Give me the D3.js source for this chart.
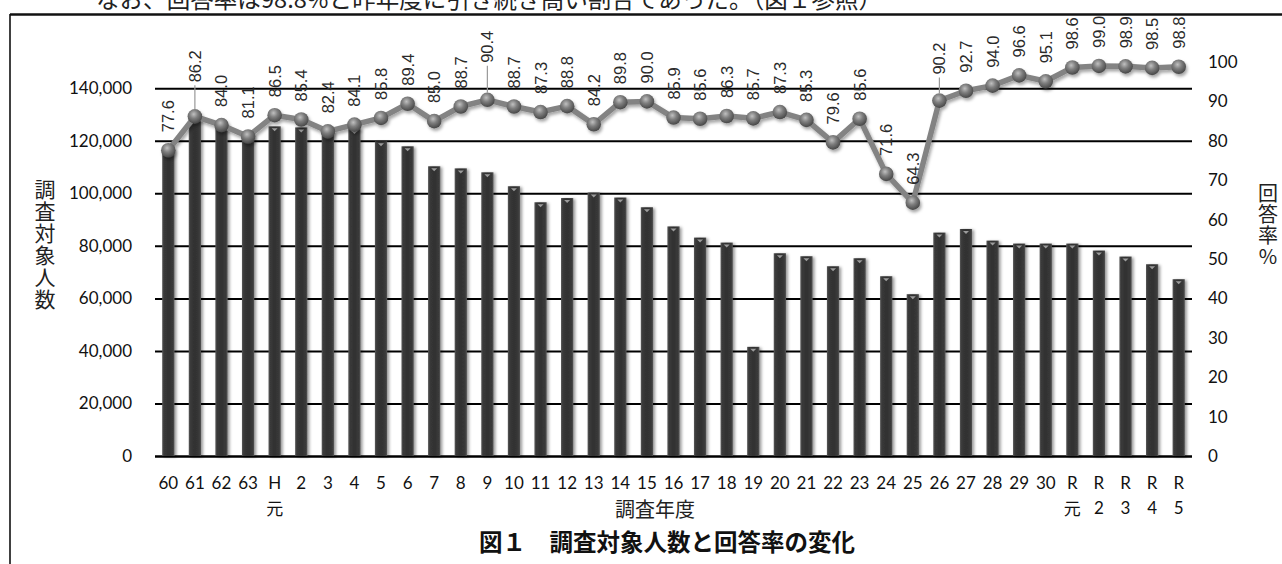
<!DOCTYPE html>
<html>
<head>
<meta charset="utf-8">
<script src="https://cdn.jsdelivr.net/npm/d3@7"></script>
<style>
  body { margin: 0; background: #fff; }
  svg { display: block; }
</style>
</head>
<body>
<svg id="chart" width="1282" height="564"></svg>
<script>
// Survey years (Showa 60 … Reiwa 5)
const categories = ["60","61","62","63","H元","2","3","4","5","6","7","8","9","10",
  "11","12","13","14","15","16","17","18","19","20","21","22","23","24","25","26",
  "27","28","29","30","R元","R2","R3","R4","R5"];

// Number of people surveyed (bars, left axis)
const subjects = [117000,128500,126000,122500,125500,125100,124000,124500,119800,117900,
  110300,109500,108000,102700,96600,98200,100300,98400,94700,87400,83150,81250,41560,
  77190,76050,72240,75290,68440,61600,85050,86430,82000,80870,80870,80870,78210,75930,
  73000,67300];

// Response rate in % (line, right axis)
const rates = [77.6,86.2,84.0,81.1,86.5,85.4,82.4,84.1,85.8,89.4,85.0,88.7,90.4,88.7,
  87.3,88.8,84.2,89.8,90.0,85.9,85.6,86.3,85.7,87.3,85.3,79.6,85.6,71.6,64.3,90.2,
  92.7,94.0,96.6,95.1,98.6,99.0,98.9,98.5,98.8];

const leftTicks = [0,20000,40000,60000,80000,100000,120000,140000];
const rightTicks = [0,10,20,30,40,50,60,70,80,90,100];

const leftTitle = "調査対象人数";
const rightTitle = "回答率%";
const xTitle = "調査年度";
const caption = "図１　調査対象人数と回答率の変化";
const bodyLine = "なお、回答率は98.8%と昨年度に引き続き高い割合であった。（図１参照）";

// ---- layout ----
const plot = { left: 155, right: 1192, top: 62, bottom: 456 };
const latin = "Lato, 'Noto Sans', sans-serif";
const cjk = "'Noto Sans CJK JP', sans-serif";

const svg = d3.select("#chart");
const defs = svg.append("defs");

// bevelled dark bar fill
const barGrad = defs.append("linearGradient").attr("id", "barGrad")
  .attr("x1", 0).attr("x2", 1).attr("y1", 0).attr("y2", 0);
[["0%","#5a5a5a"],["14%","#3a3a3a"],["50%","#303030"],["86%","#3a3a3a"],["100%","#555"]]
  .forEach(([o,c]) => barGrad.append("stop").attr("offset", o).attr("stop-color", c));

// spherical marker fill
const dotGrad = defs.append("radialGradient").attr("id", "dotGrad")
  .attr("cx", "42%").attr("cy", "35%").attr("r", "65%");
[["0%","#c0c0c0"],["45%","#7e7e7e"],["100%","#474747"]]
  .forEach(([o,c]) => dotGrad.append("stop").attr("offset", o).attr("stop-color", c));

const barShadow = defs.append("filter").attr("id", "barShadow")
  .attr("x", "-50%").attr("y", "-5%").attr("width", "200%").attr("height", "110%");
barShadow.append("feDropShadow").attr("dx", 2).attr("dy", 1).attr("stdDeviation", 1.4)
  .attr("flood-color", "#000").attr("flood-opacity", 0.4);

const lineShadow = defs.append("filter").attr("id", "lineShadow")
  .attr("x", "-5%").attr("y", "-20%").attr("width", "110%").attr("height", "140%");
lineShadow.append("feDropShadow").attr("dx", 1.5).attr("dy", 2.5).attr("stdDeviation", 1.8)
  .attr("flood-color", "#000").attr("flood-opacity", 0.35);

// ---- scales ----
const x = d3.scaleBand().domain(categories)
  .range([plot.left, plot.right]).paddingInner(0.54).paddingOuter(0.27);
const cx = d => x(d) + x.bandwidth() / 2;
const yL = d3.scaleLinear().domain([0, 150000]).range([plot.bottom, plot.top]);
const yR = d3.scaleLinear().domain([0, 100]).range([plot.bottom, plot.top]);

// ---- body text line above the figure frame ----
svg.append("text").attr("x", 96).attr("y", 8)
  .attr("font-family", cjk).attr("font-size", 23.5).attr("fill", "#222")
  .attr("textLength", 786).attr("lengthAdjust", "spacing")
  .text(bodyLine);

// figure frame
svg.append("line").attr("x1", 10).attr("x2", 1282).attr("y1", 14.5).attr("y2", 14.5)
  .attr("stroke", "#111").attr("stroke-width", 2.5);
svg.append("line").attr("x1", 10).attr("x2", 10).attr("y1", 14).attr("y2", 564)
  .attr("stroke", "#111").attr("stroke-width", 1.6);

// ---- gridlines ----
svg.append("g").attr("transform", `translate(${plot.left},0)`)
  .call(d3.axisLeft(yL).tickValues(leftTicks).tickFormat("")
    .tickSize(-(plot.right - plot.left)))
  .call(g => g.select(".domain").remove())
  .call(g => g.selectAll(".tick line").attr("stroke", "#000")
    .attr("stroke-width", d => d === 0 ? 2.6 : 2));

// ---- axes labels ----
svg.append("g").attr("transform", `translate(${plot.left},0)`)
  .call(d3.axisLeft(yL).tickValues(leftTicks).tickFormat(d3.format(","))
    .tickSize(0).tickPadding(23))
  .call(g => g.select(".domain").remove())
  .call(g => g.selectAll("text").attr("font-family", latin).attr("font-size", 17)
    .attr("fill", "#111"));

svg.append("g").attr("transform", `translate(${plot.right},0)`)
  .call(d3.axisRight(yR).tickValues(rightTicks).tickSize(0).tickPadding(16))
  .call(g => g.select(".domain").remove())
  .call(g => g.selectAll("text").attr("font-family", latin).attr("font-size", 17)
    .attr("fill", "#111"));

// category labels: era letter on top, 元 / digit below for H元 and R…
const xl = svg.append("g");
categories.forEach(c => {
  const parts = /^[HR]/.test(c) ? [c[0], c.slice(1)] : [c];
  parts.forEach((p, k) => {
    xl.append("text").attr("x", cx(c)).attr("y", k === 0 ? 482 : 507)
      .attr("text-anchor", "middle").attr("dominant-baseline", "central")
      .attr("font-family", p === "元" ? cjk : latin).attr("font-size", 17)
      .attr("fill", "#111").text(p);
  });
});

// axis titles, set in vertical writing mode
const vertical = (str, x0, y0, size, spacing) =>
  svg.append("text").attr("x", x0).attr("y", y0)
    .style("writing-mode", "vertical-rl").style("text-orientation", "upright")
    .attr("font-family", cjk).attr("font-size", size).attr("letter-spacing", spacing)
    .attr("fill", "#222").text(str);
vertical(leftTitle, 45, 179, 21, 1);
vertical(rightTitle, 1268, 183, 20, 1);

svg.append("text").attr("x", 655).attr("y", 508).attr("text-anchor", "middle")
  .attr("dominant-baseline", "central").attr("font-family", cjk).attr("font-size", 20)
  .attr("fill", "#222").text(xTitle);

svg.append("text").attr("x", 667).attr("y", 541).attr("text-anchor", "middle")
  .attr("dominant-baseline", "central").attr("font-family", cjk).attr("font-size", 23.5)
  .attr("font-weight", "bold").attr("fill", "#111").text(caption);

// ---- bars ----
const bars = svg.append("g");
categories.forEach((c, i) => {
  const top = yL(subjects[i]);
  bars.append("rect").attr("x", x(c)).attr("y", top)
    .attr("width", x.bandwidth()).attr("height", plot.bottom - top)
    .attr("fill", "url(#barGrad)").attr("filter", "url(#barShadow)");
  bars.append("path")
    .attr("d", `M${cx(c) - 3},${top + 2}L${cx(c) + 3},${top + 2}L${cx(c)},${top + 5}Z`)
    .attr("fill", "#9c9c9c");
});

// ---- response-rate line with markers ----
const pts = categories.map((c, i) => [cx(c), yR(rates[i])]);
const lineG = svg.append("g").attr("filter", "url(#lineShadow)");
lineG.append("path").attr("d", d3.line()(pts)).attr("fill", "none")
  .attr("stroke", "#838383").attr("stroke-width", 5.5).attr("stroke-linejoin", "round");
lineG.selectAll("circle").data(pts).join("circle")
  .attr("cx", d => d[0]).attr("cy", d => d[1]).attr("r", 7.3)
  .attr("fill", "url(#dotGrad)");

// ---- value labels (rotated), a few lifted with a leader line ----
const lifted = { "61": 34, "9": 37, "26": 26 };
const labels = svg.append("g");
categories.forEach((c, i) => {
  const [px, py] = pts[i];
  const lift = lifted[c] || 18;
  const ly = py - lift;
  if (lifted[c]) {
    labels.append("line").attr("x1", px).attr("x2", px)
      .attr("y1", ly + 3).attr("y2", py - 7)
      .attr("stroke", "#999").attr("stroke-width", 1.2);
  }
  labels.append("text")
    .attr("transform", `translate(${px},${ly}) rotate(-90)`)
    .attr("dominant-baseline", "central")
    .attr("font-family", "'Liberation Sans', Arial, sans-serif").attr("font-size", 16.5)
    .attr("fill", "#2a2a2a").text(rates[i].toFixed(1));
});
</script>
</body>
</html>
